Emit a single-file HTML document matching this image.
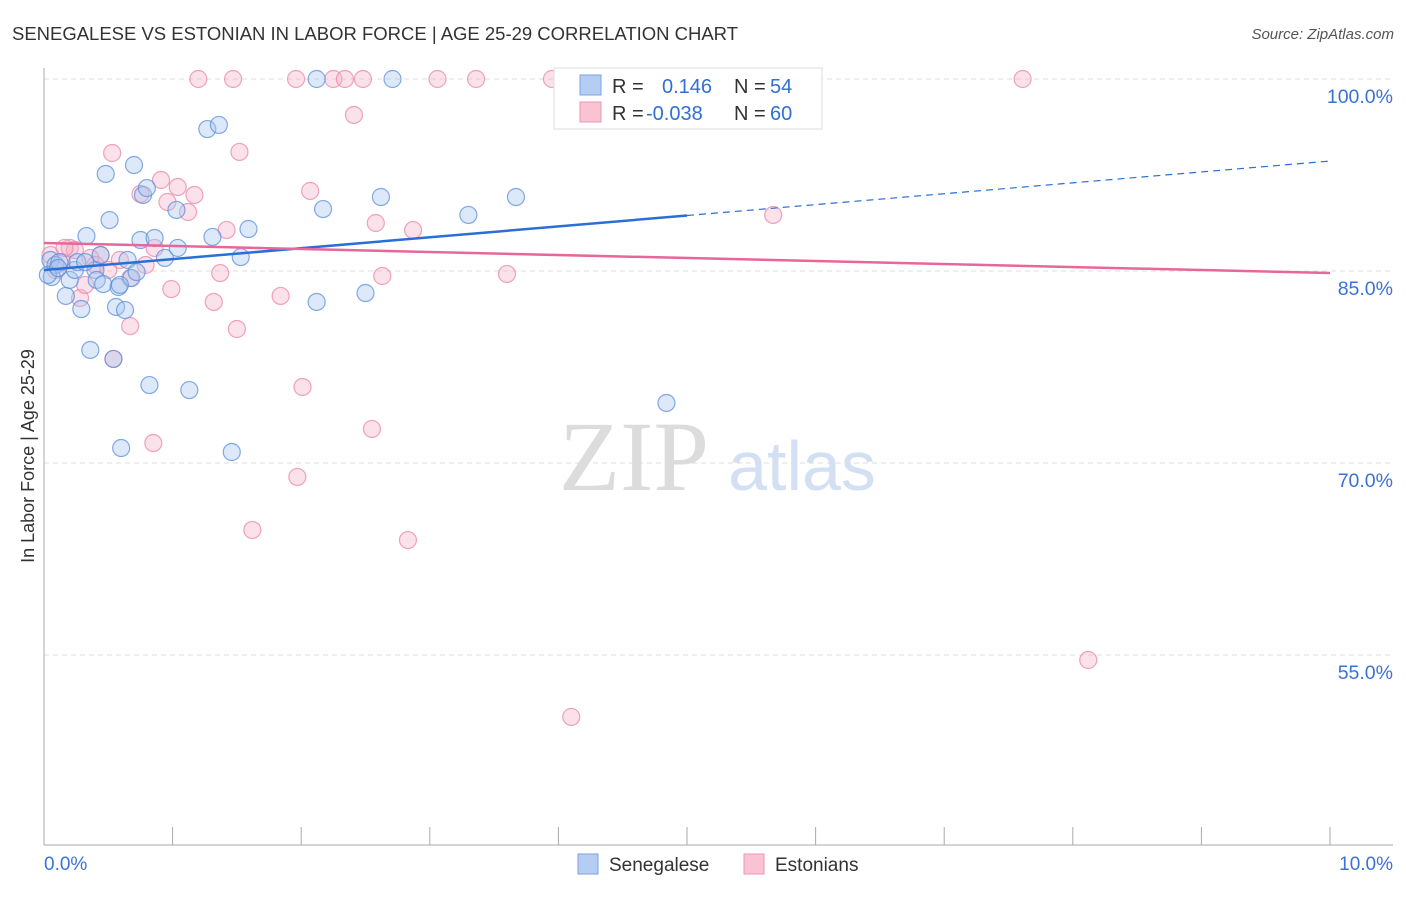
<!DOCTYPE html>
<html><head><meta charset="utf-8">
<style>
body{margin:0;background:#fff;font-family:"Liberation Sans",sans-serif;}
</style></head>
<body>
<svg id="chart" width="1406" height="892" xmlns="http://www.w3.org/2000/svg" font-family="Liberation Sans, sans-serif">
<text x="12" y="40" font-size="18.5" fill="#333" textLength="726">SENEGALESE VS ESTONIAN IN LABOR FORCE | AGE 25-29 CORRELATION CHART</text>
<text x="1394" y="39" font-size="15" fill="#555" font-style="italic" text-anchor="end">Source: ZipAtlas.com</text>
<text x="634" y="490" font-size="100" fill="#dcdcdc" style="font-family:'Liberation Serif',serif" text-anchor="middle">ZIP</text>
<text x="802" y="490" font-size="70" fill="#d3e0f3" text-anchor="middle">atlas</text>
<text transform="translate(34,456) rotate(-90)" font-size="18" fill="#333" text-anchor="middle">In Labor Force | Age 25-29</text>
<g id="grid"></g><g id="ticks"></g><g id="marks"></g><g id="trends"></g>
<g>
<rect x="554" y="68" width="268" height="61" fill="#fff" stroke="#ddd"/>
<rect x="580" y="75" width="21" height="20" fill="#b5cdf2" stroke="#7aa3e0"/>
<rect x="580" y="102" width="21" height="20" fill="#f9c3d4" stroke="#ec94b2"/>
<text x="612" y="93" font-size="20" fill="#333">R =</text>
<text x="662" y="93" font-size="20" fill="#2f6fd6">0.146</text>
<text x="734" y="93" font-size="20" fill="#333">N =</text>
<text x="770" y="93" font-size="20" fill="#2f6fd6">54</text>
<text x="612" y="120" font-size="20" fill="#333">R =</text>
<text x="646" y="120" font-size="20" fill="#2f6fd6">-0.038</text>
<text x="734" y="120" font-size="20" fill="#333">N =</text>
<text x="770" y="120" font-size="20" fill="#2f6fd6">60</text>
</g>
<g>
<rect x="578" y="854" width="20" height="20" fill="#b5cdf2" stroke="#7aa3e0"/>
<text x="609" y="871" font-size="19" fill="#333">Senegalese</text>
<rect x="744" y="854" width="20" height="20" fill="#f9c3d4" stroke="#ec94b2"/>
<text x="775" y="871" font-size="19" fill="#333">Estonians</text>
</g>
</svg>
<script>
const yTicks=[100,85,70,55];
const yTickLabels=["100.0%","85.0%","70.0%","55.0%"];
const xTickLabels=["0.0%","10.0%"];
const blueX=[0.05,0.06,0.09,0.12,0.17,0.20,0.24,0.26,0.29,0.33,0.36,0.40,0.41,0.44,0.46,0.48,0.51,0.54,0.56,0.58,0.60,0.63,0.65,0.68,0.70,0.72,0.75,0.77,0.80,0.82,0.86,0.94,1.03,1.04,1.13,1.27,1.31,1.36,1.46,1.53,1.59,2.12,2.12,2.17,2.50,2.62,2.71,3.30,3.67,4.84,0.03,0.11,0.32,0.59];
const blueY=[85.86,84.53,85.47,85.70,83.05,84.30,85.08,85.70,82.03,87.73,78.83,85.08,84.30,86.25,83.98,92.58,88.98,78.13,82.19,83.75,71.17,81.95,85.86,84.45,93.28,84.92,87.42,90.94,91.48,76.09,87.58,86.02,89.77,86.80,75.70,96.09,87.66,96.41,70.86,86.09,88.28,100,82.58,89.84,83.28,90.78,100,89.38,90.78,74.69,84.69,85.23,85.70,83.91];
const pinkX=[1.20,1.47,1.96,2.25,2.34,2.48,3.06,3.36,3.95,5.58,7.61,2.41,0.53,1.52,0.91,1.04,1.17,0.75,0.96,1.12,2.07,2.58,2.87,5.67,1.42,0.86,0.20,0.44,0.59,0.79,0.67,1.37,2.63,3.60,0.99,1.32,1.84,0.28,0.67,1.50,0.54,2.01,0.85,2.55,1.97,1.62,2.83,8.12,4.10,0.05,0.14,0.24,0.36,0.40,0.50,0.09,0.32,0.16];
const pinkY=[100,100,100,100,100,100,100,100,100,100,100,97.19,94.22,94.30,92.11,91.56,90.94,91.02,90.39,89.61,91.25,88.75,88.20,89.38,88.20,86.80,86.80,86.25,85.86,85.47,84.45,84.84,84.61,84.77,83.59,82.58,83.05,82.89,80.70,80.47,78.13,75.94,71.56,72.66,68.91,64.77,63.98,54.61,50.16,86.25,85.70,86.64,86.02,85.47,85.08,85.08,83.91,86.80];
const blueTrend=[85.08,93.59];
const pinkTrend=[87.19,84.84];

const NS="http://www.w3.org/2000/svg";
const X0=44,X1=1330,Y100=79,PXPER=12.8;
function sx(v){return X0+(X1-X0)*v/10;}
function sy(v){return Y100+(100-v)*PXPER;}
function mk(t,a,p){const e=document.createElementNS(NS,t);for(const k in a)e.setAttribute(k,a[k]);p.appendChild(e);return e;}
const grid=document.getElementById('grid'),ticks=document.getElementById('ticks'),marks=document.getElementById('marks'),trends=document.getElementById('trends');
yTicks.forEach((v,i)=>{
 const l=mk('line',{x1:44,x2:1393,y1:sy(v),y2:sy(v),stroke:'#ddd','stroke-dasharray':'5,4'},grid);
 
 
 const t=mk('text',{x:1393,y:sy(v)+24,'font-size':19.5,fill:'#3a72d6','text-anchor':'end'},ticks);
 t.textContent=yTickLabels[i];
 
 
});
const ax=mk('line',{x1:44,x2:44,y1:68,y2:845,stroke:'#aaa'},grid);


const bx=mk('line',{x1:44,x2:1393,y1:845,y2:845,stroke:'#aaa'},grid);


for(let i=0;i<=10;i++){
 const t=mk('line',{x1:sx(i),x2:sx(i),y1:827,y2:845,stroke:'#aaa'},grid);
 
 
}
[[0,'start',X0],[1,'end',1393]].forEach(([i,a,x])=>{
 const t=mk('text',{x:x,y:870,'font-size':19,fill:'#3a72d6','text-anchor':a},ticks);
 t.textContent=xTickLabels[i];
 
 
});
function pts(xs,ys,fill,stroke,name){
 xs.forEach((x,i)=>{
  const c=mk('circle',{cx:sx(x),cy:sy(ys[i]),r:8.5,fill:fill,'fill-opacity':0.4,stroke:stroke,'stroke-opacity':0.75,'stroke-width':1.2},marks);
  
  
 });
}
pts(pinkX,pinkY,'#f6b3c8','#e986a8','estonian-point');
pts(blueX,blueY,'#a9c6f0','#5b8fdc','senegalese-point');
const bmid=blueTrend[0]+(blueTrend[1]-blueTrend[0])*0.5;
const b1=mk('line',{x1:sx(0),y1:sy(blueTrend[0]),x2:sx(5),y2:sy(bmid),stroke:'#2a6fd6','stroke-width':2.5},trends);


const b2=mk('line',{x1:sx(5),y1:sy(bmid),x2:sx(10),y2:sy(blueTrend[1]),stroke:'#2a6fd6','stroke-width':1.2,'stroke-dasharray':'7,5'},trends);


const p1=mk('line',{x1:sx(0),y1:sy(pinkTrend[0]),x2:sx(10),y2:sy(pinkTrend[1]),stroke:'#e8679a','stroke-width':2.5},trends);


</script>
</body></html>
